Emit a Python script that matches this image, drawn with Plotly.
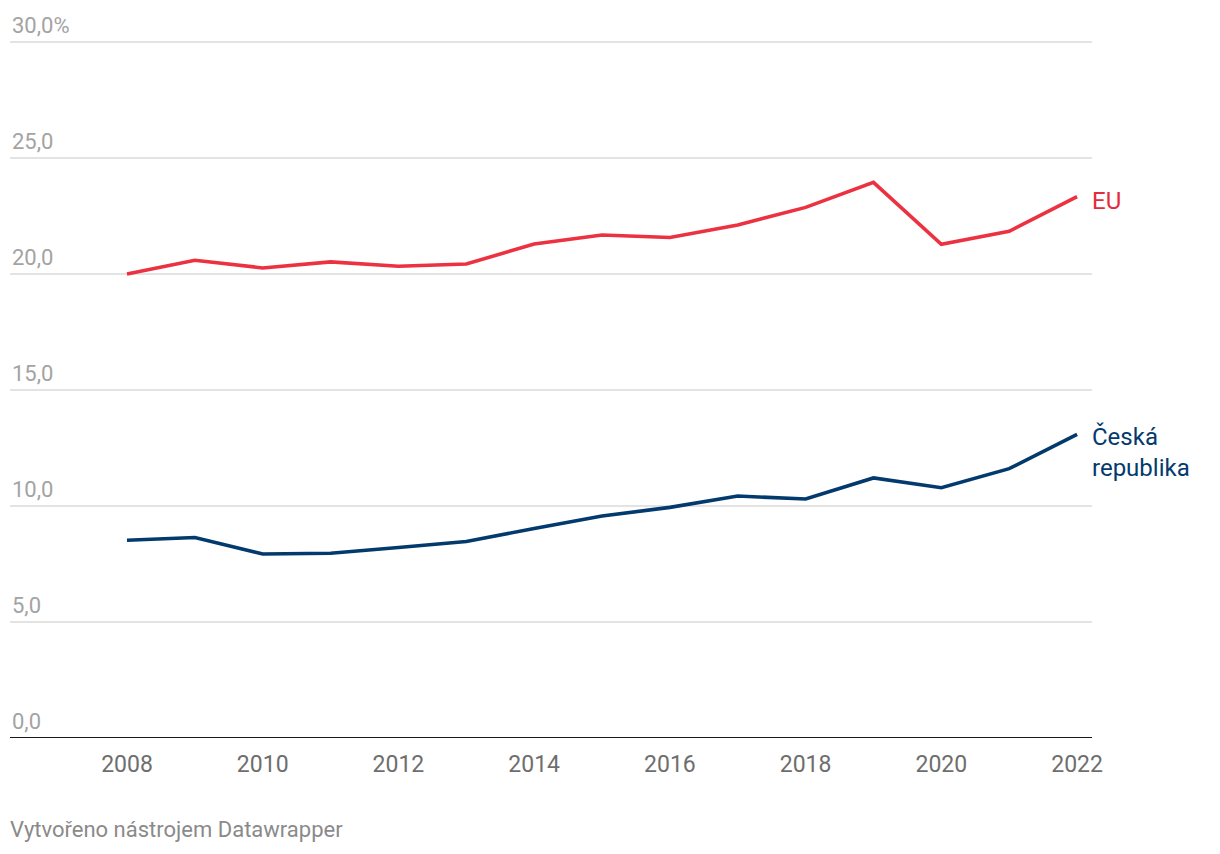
import plotly.graph_objects as go

years = list(range(2008, 2023))
eu = [20.0, 20.59, 20.26, 20.52, 20.33, 20.43, 21.29, 21.68, 21.57, 22.11, 22.87, 23.95, 21.28, 21.84, 23.33]
cz = [8.52, 8.64, 7.93, 7.96, 8.21, 8.47, 9.03, 9.57, 9.94, 10.43, 10.30, 11.21, 10.79, 11.61, 13.09]
y_ticks = [0, 5, 10, 15, 20, 25, 30]
y_tick_labels = ["0,0", "5,0", "10,0", "15,0", "20,0", "25,0", "30,0%"]
x_ticks = list(range(2008, 2023, 2))
x_tick_labels = [str(v) for v in x_ticks]

RED = "#ec3140"
NAVY = "#033a6e"
FONT = "Roboto"

# the page body has an 8px margin, so the figure is 8px smaller than the window
W, H = 1212, 846
ML, MR, MT, MB = 2, 128, 27, 116

fig = go.Figure()
fig.add_trace(go.Scatter(x=years, y=eu, mode="lines", line=dict(color=RED, width=3.6),
                         name="EU", hoverinfo="skip"))
fig.add_trace(go.Scatter(x=years, y=cz, mode="lines", line=dict(color=NAVY, width=3.6),
                         name="Česká republika", hoverinfo="skip"))

annotations = []
for v, t in zip(y_ticks, y_tick_labels):
    annotations.append(dict(x=0, xref="paper", y=v, yref="y", text=t, showarrow=False,
                            xanchor="left", yanchor="bottom", yshift=2, xshift=0,
                            font=dict(family=FONT, size=22, color="#a3a3a3")))

annotations.append(dict(x=years[-1], y=eu[-1], xref="x", yref="y", text="EU", showarrow=False,
                        xanchor="left", yanchor="middle", xshift=13, yshift=-4,
                        font=dict(family=FONT, size=24, color="#e42b3b")))
annotations.append(dict(x=years[-1], y=cz[-1], xref="x", yref="y", text="Česká<br>republika",
                        showarrow=False, xanchor="left", yanchor="middle", align="left",
                        xshift=13, yshift=-18,
                        font=dict(family=FONT, size=24, color=NAVY)))
plot_h = H - MT - MB
annotations.append(dict(x=0, xref="paper", y=-(822 - (H - MB)) / plot_h, yref="paper",
                        text="Vytvořeno nástrojem Datawrapper", showarrow=False,
                        xanchor="left", yanchor="middle", xshift=-2,
                        font=dict(family=FONT, size=22, color="#8a8a8a")))

fig.update_layout(
    width=W, height=H, autosize=False,
    margin=dict(l=ML, r=MR, t=MT, b=MB, pad=0),
    plot_bgcolor="white", paper_bgcolor="white",
    showlegend=False,
    font=dict(family=FONT),
    annotations=annotations,
    xaxis=dict(range=[2006.276, 2022.22], tickvals=x_ticks, ticktext=x_tick_labels,
               showgrid=False, zeroline=False, showline=False, ticks="",
               tickfont=dict(family=FONT, size=23, color="#6e6e6e"), ticklabelstandoff=10),
    yaxis=dict(range=[0, 30.3], tickvals=y_ticks, showticklabels=False, showgrid=True,
               gridcolor="#e3e3e3", gridwidth=1.5, zeroline=False, showline=False, ticks=""),
    shapes=[dict(type="line", xref="paper", yref="y", x0=0, x1=1, y0=0, y1=0,
                 line=dict(color="#1a1a1a", width=2))],
)

fig.write_html("out.html")
